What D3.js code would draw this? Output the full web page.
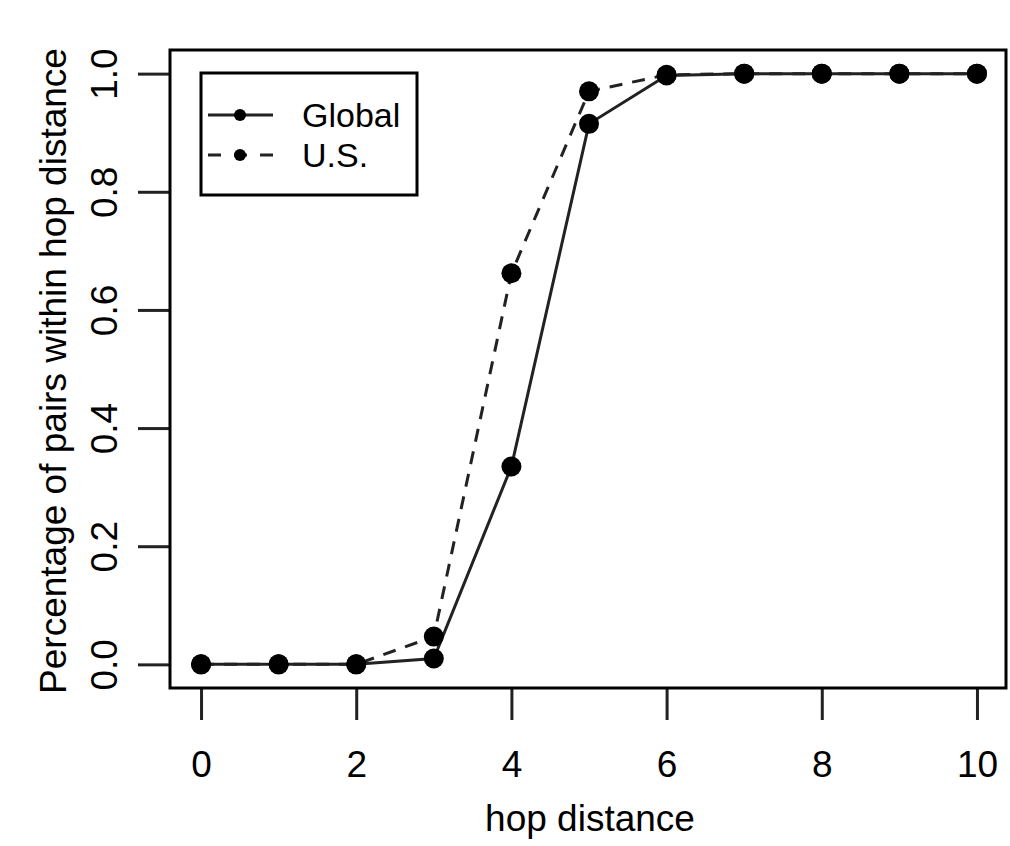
<!DOCTYPE html>
<html>
<head>
<meta charset="utf-8">
<script src="https://cdn.jsdelivr.net/npm/d3@7"></script>
<style>
  body { margin: 0; background: #fff; }
  text { font-family: "Liberation Sans", Arial, sans-serif; fill: #000; }
</style>
</head>
<body>
<div id="chart"></div>
<script>
var width = 1010;
var height = 846;
var margin = {left: 170, right: 2, top: 50, bottom: 158};

// hop distance values
var hops = [0, 1, 2, 3, 4, 5, 6, 7, 8, 9, 10];
var globalVals = [0, 0, 0, 0.01, 0.335, 0.915, 0.997, 1, 1, 1, 1];
var usVals = [0, 0, 0, 0.047, 0.662, 0.97, 0.998, 1, 1, 1, 1];
var xTicks = [0, 2, 4, 6, 8, 10];
var yTicks = [0, 0.2, 0.4, 0.6, 0.8, 1.0];
var seriesNames = ["Global", "U.S."];

var fontSize = 37;

var svg = d3.select("#chart").append("svg")
  .attr("width", width)
  .attr("height", height);

var plotW = width - margin.left - margin.right;
var plotH = height - margin.top - margin.bottom;

// R style 4% padding on each side
var x = d3.scaleLinear().domain([-0.4, 10.4]).range([margin.left, margin.left + plotW]);
var y = d3.scaleLinear().domain([-0.04, 1.04]).range([margin.top + plotH, margin.top]);

var lineCol = "#222";

// x axis
var xAxis = svg.append("g")
  .attr("transform", "translate(0," + (margin.top + plotH) + ")")
  .call(d3.axisBottom(x).tickValues(xTicks).tickSize(32).tickPadding(31).tickFormat(d3.format("d")));
xAxis.select(".domain").remove();
xAxis.selectAll("line").attr("stroke", lineCol).attr("stroke-width", 3);
xAxis.selectAll("text").attr("font-size", fontSize).attr("font-family", "Liberation Sans, Arial, sans-serif").attr("fill", "#000");

// y axis
var yAxis = svg.append("g")
  .attr("transform", "translate(" + margin.left + ",0)")
  .call(d3.axisLeft(y).tickValues(yTicks).tickSize(32).tickFormat(d3.format(".1f")));
yAxis.select(".domain").remove();
yAxis.selectAll("line").attr("stroke", lineCol).attr("stroke-width", 3);
yAxis.selectAll("text")
  .attr("font-size", fontSize)
  .attr("font-family", "Liberation Sans, Arial, sans-serif")
  .attr("fill", "#000")
  .attr("x", 0).attr("dy", 0)
  .attr("text-anchor", "middle")
  .attr("transform", "translate(-66,0) rotate(-90)")
  .attr("dominant-baseline", "central");

// axis titles
svg.append("text")
  .attr("x", 590).attr("y", 831)
  .attr("text-anchor", "middle")
  .attr("font-size", fontSize)
  .text("hop distance");

svg.append("text")
  .attr("transform", "translate(66,371) rotate(-90)")
  .attr("text-anchor", "middle")
  .attr("font-size", fontSize)
  .text("Percentage of pairs within hop distance");

// lines
var line = d3.line()
  .x(function(d) { return x(d[0]); })
  .y(function(d) { return y(d[1]); });

var globalData = d3.zip(hops, globalVals);
var usData = d3.zip(hops, usVals);

svg.append("path")
  .datum(usData)
  .attr("d", line)
  .attr("fill", "none")
  .attr("stroke", lineCol)
  .attr("stroke-width", 3)
  .attr("stroke-dasharray", "13,10");

svg.append("path")
  .datum(globalData)
  .attr("d", line)
  .attr("fill", "none")
  .attr("stroke", lineCol)
  .attr("stroke-width", 3);

[globalData, usData].forEach(function(data) {
  svg.append("g").selectAll("circle")
    .data(data)
    .enter()
    .append("circle")
    .attr("cx", function(d) { return x(d[0]); })
    .attr("cy", function(d) { return y(d[1]); })
    .attr("r", 10)
    .attr("fill", "#000");
});

// plot box
svg.append("rect")
  .attr("x", margin.left).attr("y", margin.top)
  .attr("width", plotW - 2).attr("height", plotH)
  .attr("fill", "none")
  .attr("stroke", "#000")
  .attr("stroke-width", 3);

// legend
var legend = svg.append("g");
legend.append("rect")
  .attr("x", 201).attr("y", 73)
  .attr("width", 216).attr("height", 122)
  .attr("fill", "#fff")
  .attr("stroke", "#000")
  .attr("stroke-width", 3);

var legRows = legend.selectAll("g.row")
  .data(seriesNames)
  .enter()
  .append("g")
  .attr("class", "row")
  .attr("transform", function(d, i) { return "translate(0," + (115 + i * 40) + ")"; });

legRows.append("line")
  .attr("x1", 208).attr("x2", 273)
  .attr("stroke", lineCol)
  .attr("stroke-width", 3)
  .attr("stroke-dasharray", function(d, i) { return i === 1 ? "13,13" : null; });

legRows.append("circle")
  .attr("cx", 240).attr("r", 6)
  .attr("fill", "#000");

legRows.append("text")
  .attr("x", 302)
  .attr("dy", "0.36em")
  .attr("font-size", 34)
  .text(function(d) { return d; });
</script>
</body>
</html>
